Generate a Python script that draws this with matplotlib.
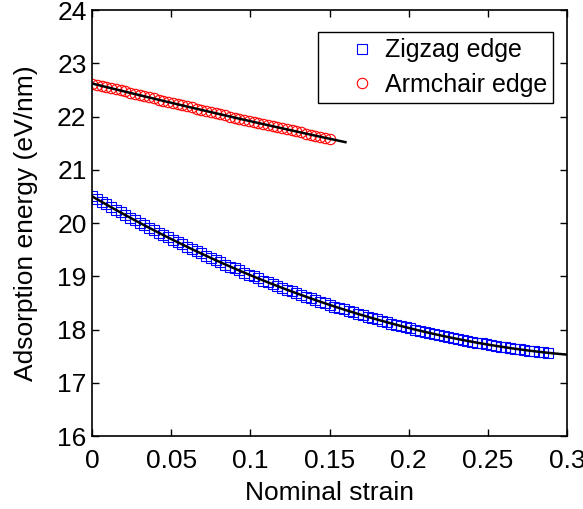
import numpy as np
import matplotlib.pyplot as plt

plt.rcParams['font.family'] = ['Liberation Sans', 'DejaVu Sans']

# 数据：名义应变与吸附能
strain_zz = np.arange(97) * 0.003
energy_zz = [20.50, 20.45, 20.40, 20.35, 20.30, 20.25, 20.20, 20.15, 20.10, 20.05,
             20.00, 19.96, 19.91, 19.86, 19.82, 19.77, 19.73, 19.68, 19.64, 19.60,
             19.55, 19.51, 19.47, 19.43, 19.38, 19.34, 19.30, 19.26, 19.22, 19.18,
             19.15, 19.11, 19.07, 19.03, 19.00, 18.96, 18.92, 18.89, 18.85, 18.82,
             18.78, 18.75, 18.72, 18.68, 18.65, 18.62, 18.59, 18.55, 18.52, 18.49,
             18.46, 18.43, 18.40, 18.38, 18.35, 18.32, 18.29, 18.27, 18.24, 18.21,
             18.19, 18.16, 18.14, 18.11, 18.09, 18.07, 18.04, 18.02, 18.00, 17.98,
             17.96, 17.94, 17.92, 17.90, 17.88, 17.86, 17.84, 17.82, 17.80, 17.79,
             17.77, 17.75, 17.74, 17.72, 17.71, 17.69, 17.68, 17.67, 17.65, 17.64,
             17.63, 17.62, 17.60, 17.59, 17.58, 17.57, 17.56]

strain_ac = np.arange(51) * 0.003
energy_ac = [22.62, 22.60, 22.58, 22.55, 22.53, 22.51, 22.49, 22.47, 22.44, 22.42,
             22.40, 22.38, 22.36, 22.34, 22.31, 22.29, 22.27, 22.25, 22.23, 22.21,
             22.19, 22.17, 22.15, 22.12, 22.10, 22.08, 22.06, 22.04, 22.02, 22.00,
             21.98, 21.96, 21.94, 21.92, 21.90, 21.88, 21.86, 21.84, 21.82, 21.80,
             21.78, 21.76, 21.74, 21.72, 21.70, 21.68, 21.66, 21.64, 21.62, 21.60,
             21.58]

labels = ['Zigzag edge', 'Armchair edge']

fig = plt.figure(figsize=(5.83, 5.09), dpi=100)
ax = fig.add_axes([0.158, 0.1434, 0.8146, 0.8369])

ax.plot(strain_zz, energy_zz, 's', color='blue', mfc='none', ms=7.5, mew=0.8, label=labels[0])
ax.plot(strain_ac, energy_ac, 'o', color='red', mfc='none', ms=7.5, mew=0.8, label=labels[1])

# 二次拟合曲线 (黑线)
fit_zz = np.polyfit(strain_zz, energy_zz, 2)
xf = np.linspace(0, 0.3, 100)
ax.plot(xf, np.polyval(fit_zz, xf), 'k-', lw=1.8)
fit_ac = np.polyfit(strain_ac, energy_ac, 2)
xf2 = np.linspace(0, 0.16, 60)
ax.plot(xf2, np.polyval(fit_ac, xf2), 'k-', lw=1.8)

ax.set_xlim(0, 0.3)
ax.set_ylim(16, 24)
ax.set_xticks([0, 0.05, 0.1, 0.15, 0.2, 0.25, 0.3])
ax.set_xticklabels(['0', '0.05', '0.1', '0.15', '0.2', '0.25', '0.3'])
ax.set_yticks(range(16, 25))
ax.tick_params(direction='in', top=True, right=True, length=5, width=1, labelsize=19)
ax.tick_params(axis='x', pad=9)
ax.tick_params(axis='y', pad=4)
for s in ax.spines.values():
    s.set_linewidth(1.2)

ax.set_xlabel('Nominal strain', fontsize=19, labelpad=6)
ax.set_ylabel('Adsorption energy (eV/nm)', fontsize=19, labelpad=14)

leg = ax.legend(loc='upper right', bbox_to_anchor=(0.9705, 0.948), borderaxespad=0,
                fontsize=18, handlelength=3.0, handletextpad=-0.6, fancybox=False,
                edgecolor='black', framealpha=1, borderpad=0.25, labelspacing=0.42)
leg.get_frame().set_linewidth(1.0)

plt.savefig('out.png', dpi=100)
